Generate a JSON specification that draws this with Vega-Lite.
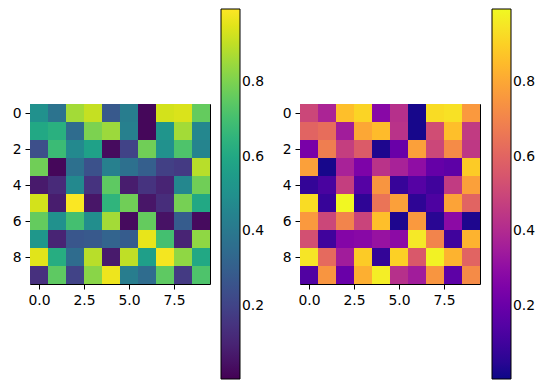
{
  "$schema": "https://vega.github.io/schema/vega-lite/v6.json",
  "padding": {"left": 11, "top": 8, "right": 0, "bottom": 0},
  "spacing": 15,
  "background": "white",
  "config": {
    "font": "DejaVu Sans",
    "view": {"stroke": "black", "strokeWidth": 1},
    "axis": {
      "grid": false, "domain": false, "tickColor": "black", "tickSize": 5, "tickWidth": 1,
      "labelFont": "DejaVu Sans", "labelFontSize": 13.9, "labelColor": "black", "labelPadding": 4, "title": null
    },
    "legend": {
      "labelFont": "DejaVu Sans", "labelFontSize": 13.9, "labelColor": "black", "labelOffset": 8
    }
  },
  "datasets": {
    "m": [
      {"r":0,"c":0,"v":0.50},{"r":0,"c":1,"v":0.38},{"r":0,"c":2,"v":0.86},{"r":0,"c":3,"v":0.91},{"r":0,"c":4,"v":0.28},{"r":0,"c":5,"v":0.42},{"r":0,"c":6,"v":0.02},{"r":0,"c":7,"v":0.93},{"r":0,"c":8,"v":0.94},{"r":0,"c":9,"v":0.76},
      {"r":1,"c":0,"v":0.60},{"r":1,"c":1,"v":0.63},{"r":1,"c":2,"v":0.35},{"r":1,"c":3,"v":0.80},{"r":1,"c":4,"v":0.85},{"r":1,"c":5,"v":0.43},{"r":1,"c":6,"v":0.02},{"r":1,"c":7,"v":0.52},{"r":1,"c":8,"v":0.86},{"r":1,"c":9,"v":0.46},
      {"r":2,"c":0,"v":0.24},{"r":2,"c":1,"v":0.68},{"r":2,"c":2,"v":0.47},{"r":2,"c":3,"v":0.57},{"r":2,"c":4,"v":0.03},{"r":2,"c":5,"v":0.20},{"r":2,"c":6,"v":0.78},{"r":2,"c":7,"v":0.50},{"r":2,"c":8,"v":0.72},{"r":2,"c":9,"v":0.45},
      {"r":3,"c":0,"v":0.78},{"r":3,"c":1,"v":0.02},{"r":3,"c":2,"v":0.37},{"r":3,"c":3,"v":0.25},{"r":3,"c":4,"v":0.43},{"r":3,"c":5,"v":0.37},{"r":3,"c":6,"v":0.30},{"r":3,"c":7,"v":0.19},{"r":3,"c":8,"v":0.17},{"r":3,"c":9,"v":0.89},
      {"r":4,"c":0,"v":0.07},{"r":4,"c":1,"v":0.12},{"r":4,"c":2,"v":0.47},{"r":4,"c":3,"v":0.15},{"r":4,"c":4,"v":0.75},{"r":4,"c":5,"v":0.08},{"r":4,"c":6,"v":0.15},{"r":4,"c":7,"v":0.10},{"r":4,"c":8,"v":0.46},{"r":4,"c":9,"v":0.78},
      {"r":5,"c":0,"v":0.93},{"r":5,"c":1,"v":0.08},{"r":5,"c":2,"v":0.99},{"r":5,"c":3,"v":0.06},{"r":5,"c":4,"v":0.65},{"r":5,"c":5,"v":0.78},{"r":5,"c":6,"v":0.06},{"r":5,"c":7,"v":0.13},{"r":5,"c":8,"v":0.79},{"r":5,"c":9,"v":0.60},
      {"r":6,"c":0,"v":0.76},{"r":6,"c":1,"v":0.50},{"r":6,"c":2,"v":0.70},{"r":6,"c":3,"v":0.49},{"r":6,"c":4,"v":0.86},{"r":6,"c":5,"v":0.03},{"r":6,"c":6,"v":0.76},{"r":6,"c":7,"v":0.05},{"r":6,"c":8,"v":0.29},{"r":6,"c":9,"v":0.03},
      {"r":7,"c":0,"v":0.53},{"r":7,"c":1,"v":0.10},{"r":7,"c":2,"v":0.27},{"r":7,"c":3,"v":0.28},{"r":7,"c":4,"v":0.32},{"r":7,"c":5,"v":0.29},{"r":7,"c":6,"v":0.96},{"r":7,"c":7,"v":0.70},{"r":7,"c":8,"v":0.10},{"r":7,"c":9,"v":0.83},
      {"r":8,"c":0,"v":0.95},{"r":8,"c":1,"v":0.62},{"r":8,"c":2,"v":0.35},{"r":8,"c":3,"v":0.89},{"r":8,"c":4,"v":0.07},{"r":8,"c":5,"v":0.90},{"r":8,"c":6,"v":0.56},{"r":8,"c":7,"v":0.98},{"r":8,"c":8,"v":0.83},{"r":8,"c":9,"v":0.60},
      {"r":9,"c":0,"v":0.14},{"r":9,"c":1,"v":0.75},{"r":9,"c":2,"v":0.20},{"r":9,"c":3,"v":0.82},{"r":9,"c":4,"v":0.97},{"r":9,"c":5,"v":0.42},{"r":9,"c":6,"v":0.35},{"r":9,"c":7,"v":0.75},{"r":9,"c":8,"v":0.17},{"r":9,"c":9,"v":0.72}
    ]
  },
  "resolve": {"scale": {"color": "independent"}, "legend": {"color": "independent"}},
  "hconcat": [
    {
      "width": 180, "height": 180,
      "data": {"name": "m"},
      "mark": {"type": "rect", "width": 18, "height": 18},
      "encoding": {
        "x": {"field": "c", "type": "quantitative", "scale": {"domain": [-0.5, 9.5], "nice": false, "zero": false}, "axis": {"values": [0, 2.5, 5, 7.5], "format": ".1f"}},
        "y": {"field": "r", "type": "quantitative", "scale": {"domain": [-0.5, 9.5], "nice": false, "zero": false, "reverse": true}, "axis": {"values": [0, 2, 4, 6, 8], "format": "d"}},
        "color": {"field": "v", "type": "quantitative", "scale": {"scheme": "viridis", "domain": [0.005, 0.995]},
          "legend": {"title": null, "orient": "none", "legendX": 191, "legendY": -95, "direction": "vertical", "gradientLength": 370, "gradientThickness": 19, "gradientStrokeColor": "black", "gradientStrokeWidth": 1, "values": [0.2, 0.4, 0.6, 0.8], "format": ".1f"}}
      }
    },
    {
      "width": 180, "height": 180,
      "data": {"name": "m"},
      "mark": {"type": "rect", "width": 18, "height": 18},
      "encoding": {
        "x": {"field": "c", "type": "quantitative", "scale": {"domain": [-0.5, 9.5], "nice": false, "zero": false}, "axis": {"values": [0, 2.5, 5, 7.5], "format": ".1f"}},
        "y": {"field": "r", "type": "quantitative", "scale": {"domain": [-0.5, 9.5], "nice": false, "zero": false, "reverse": true}, "axis": {"values": [0, 2, 4, 6, 8], "format": "d"}},
        "color": {"field": "v", "type": "quantitative", "scale": {"scheme": "plasma", "domain": [0.005, 0.995]},
          "legend": {"title": null, "orient": "none", "legendX": 192, "legendY": -95, "direction": "vertical", "gradientLength": 370, "gradientThickness": 19, "gradientStrokeColor": "black", "gradientStrokeWidth": 1, "values": [0.2, 0.4, 0.6, 0.8], "format": ".1f"}}
      }
    }
  ]
}
